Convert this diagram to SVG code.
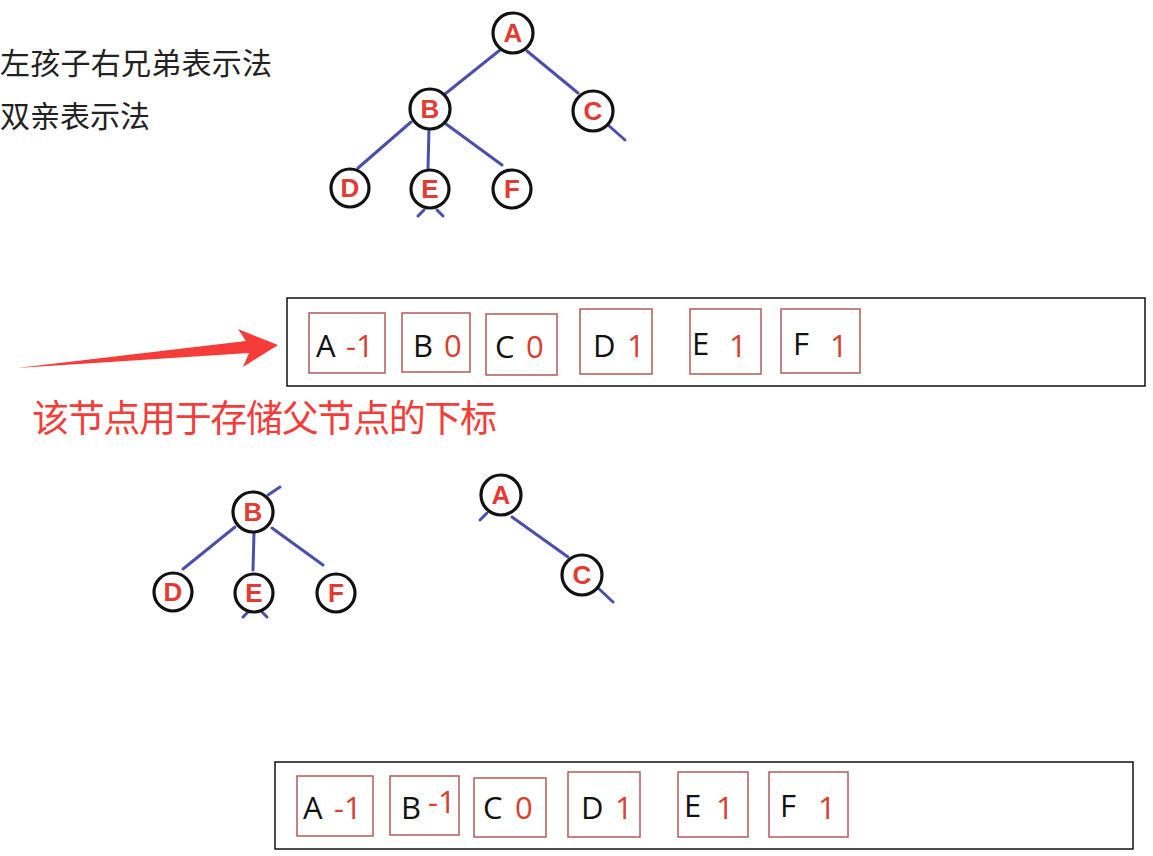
<svg xmlns="http://www.w3.org/2000/svg" width="1153" height="856" viewBox="0 0 1153 856">
<style>
.bg{fill:#fff}
.nd circle{fill:#fff;stroke:#111;stroke-width:3.2}
.nd text{font-family:"Liberation Sans",Arial,sans-serif;font-weight:bold;font-size:26px;fill:#e53a32;text-anchor:middle}
.edge{stroke:#4a4fae;stroke-width:3;stroke-linecap:round;fill:none}
.outer{fill:#fff;stroke:#111;stroke-width:1.5}
.cell{fill:#fff;stroke:#b35a5a;stroke-width:1.5}
.k{font-family:"Open Sans","Liberation Sans",sans-serif;font-size:31px;fill:#111}
.v{font-family:"Open Sans","Liberation Sans",sans-serif;font-size:31px;fill:#d8402e}
.cn{font-family:"Noto Sans CJK SC",sans-serif;font-size:30px;fill:#222}
.note{font-family:"Noto Sans CJK SC",sans-serif;font-size:37px;fill:#f53c38}
</style>
<rect class="bg" x="0" y="0" width="1153" height="856"/>
<text class="cn" x="0" y="74" textLength="272" lengthAdjust="spacing">左孩子右兄弟表示法</text>
<text class="cn" x="0" y="127" textLength="150" lengthAdjust="spacing">双亲表示法</text>

<g id="connectors">
  <line class="edge" x1="500" y1="50" x2="445" y2="94"/>
  <line class="edge" x1="527" y1="51" x2="578" y2="93"/>
  <line class="edge" x1="608" y1="125" x2="625" y2="140"/>
  <line class="edge" x1="411" y1="122" x2="358" y2="168"/>
  <line class="edge" x1="429" y1="129" x2="428" y2="168"/>
  <line class="edge" x1="446" y1="124" x2="502" y2="165"/>
  <line class="edge" x1="424" y1="210" x2="418" y2="216"/>
  <line class="edge" x1="437" y1="210" x2="443" y2="216"/>

  <line class="edge" x1="268" y1="495" x2="280" y2="487"/>
  <line class="edge" x1="235" y1="527" x2="183" y2="569"/>
  <line class="edge" x1="254" y1="532" x2="253" y2="570"/>
  <line class="edge" x1="272" y1="528" x2="323" y2="565"/>
  <line class="edge" x1="248" y1="612" x2="243" y2="617"/>
  <line class="edge" x1="262" y1="612" x2="267" y2="617"/>
  <line class="edge" x1="487" y1="513" x2="480" y2="520"/>
  <line class="edge" x1="512" y1="517" x2="568" y2="557"/>
  <line class="edge" x1="597" y1="587" x2="613" y2="602"/>
</g>

<g id="nodeA" class="nd"><circle cx="513" cy="33" r="20"/><text x="513" y="42">A</text></g>
<g id="nodeB" class="nd"><circle cx="430" cy="109" r="20"/><text x="430" y="118">B</text></g>
<g id="nodeC" class="nd"><circle cx="593" cy="111" r="20"/><text x="593" y="120">C</text></g>
<g id="nodeD" class="nd"><circle cx="350" cy="188" r="19"/><text x="350" y="197">D</text></g>
<g id="nodeE" class="nd"><circle cx="430" cy="189" r="19"/><text x="430" y="198">E</text></g>
<g id="nodeF" class="nd"><circle cx="512" cy="189" r="19"/><text x="512" y="198">F</text></g>

<g id="nodeB2" class="nd"><circle cx="253" cy="512" r="20"/><text x="253" y="521">B</text></g>
<g id="nodeD2" class="nd"><circle cx="173" cy="592" r="19"/><text x="173" y="601">D</text></g>
<g id="nodeE2" class="nd"><circle cx="254" cy="593" r="19"/><text x="254" y="602">E</text></g>
<g id="nodeF2" class="nd"><circle cx="336" cy="593" r="19"/><text x="336" y="602">F</text></g>
<g id="nodeA2" class="nd"><circle cx="501" cy="495" r="20"/><text x="501" y="504">A</text></g>
<g id="nodeC2" class="nd"><circle cx="582" cy="575" r="20"/><text x="582" y="584">C</text></g>

<g id="array1">
  <rect class="outer" x="287" y="298" width="858" height="88"/>
  <rect class="cell" x="309" y="313" width="76" height="60"/>
  <text class="k" x="316" y="357">A</text><text class="v" x="346" y="357">-1</text>
  <rect class="cell" x="402" y="313" width="68" height="59"/>
  <text class="k" x="413" y="357">B</text><text class="v" x="444" y="357">0</text>
  <rect class="cell" x="486" y="314" width="71" height="61"/>
  <text class="k" x="495" y="358">C</text><text class="v" x="526" y="358">0</text>
  <rect class="cell" x="580" y="309" width="72" height="65"/>
  <text class="k" x="593" y="357">D</text><text class="v" x="627" y="357">1</text>
  <rect class="cell" x="690" y="309" width="71" height="65"/>
  <text class="k" x="692" y="355">E</text><text class="v" x="729" y="357">1</text>
  <rect class="cell" x="781" y="309" width="79" height="64"/>
  <text class="k" x="793" y="355">F</text><text class="v" x="830" y="357">1</text>
</g>

<g id="arrow">
  <polygon fill="#f53c38" points="17,368 246,341 238,329 278,345 243,367 249,353"/>
</g>
<text class="note" x="32" y="432" textLength="465" lengthAdjust="spacing">该节点用于存储父节点的下标</text>

<g id="array2">
  <rect class="outer" x="275" y="762" width="858" height="87"/>
  <rect class="cell" x="297" y="776" width="76" height="60"/>
  <text class="k" x="303" y="819">A</text><text class="v" x="334" y="819">-1</text>
  <rect class="cell" x="390" y="776" width="69" height="59"/>
  <text class="k" x="401" y="819">B</text><text class="v" x="428" y="813">-1</text>
  <rect class="cell" x="474" y="778" width="72" height="59"/>
  <text class="k" x="483" y="819">C</text><text class="v" x="515" y="819">0</text>
  <rect class="cell" x="568" y="772" width="72" height="65"/>
  <text class="k" x="581" y="819">D</text><text class="v" x="615" y="819">1</text>
  <rect class="cell" x="678" y="772" width="70" height="65"/>
  <text class="k" x="684" y="817">E</text><text class="v" x="716" y="819">1</text>
  <rect class="cell" x="769" y="772" width="79" height="65"/>
  <text class="k" x="780" y="817">F</text><text class="v" x="818" y="819">1</text>
</g>
</svg>
